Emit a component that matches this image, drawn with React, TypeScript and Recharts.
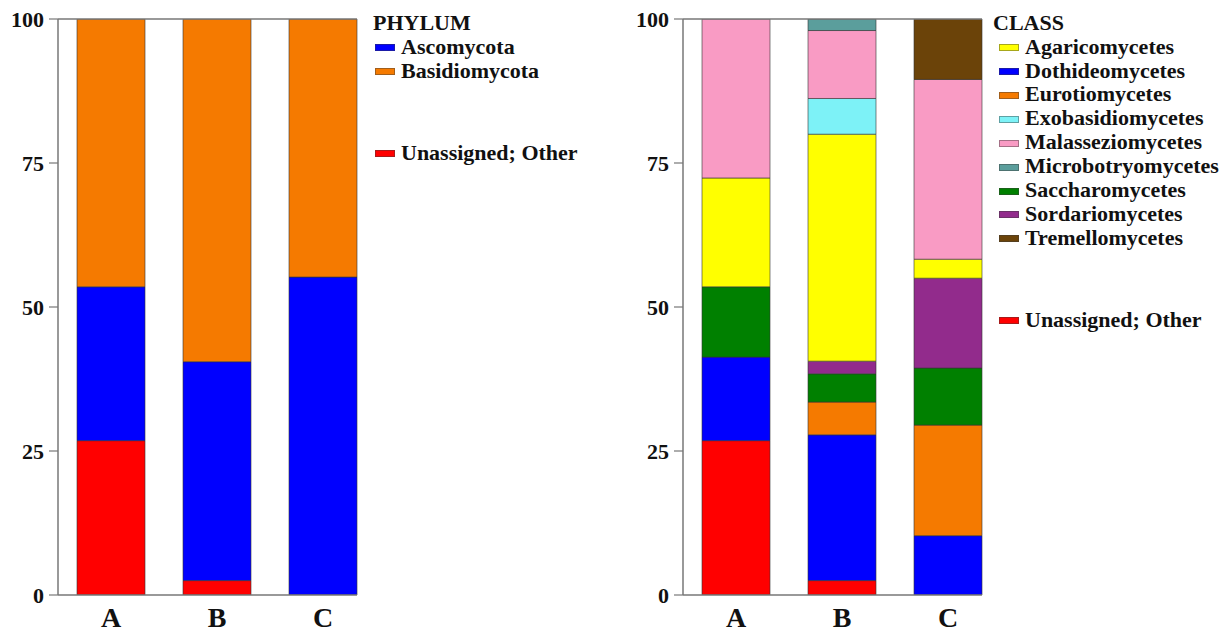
import React from 'react';
import { BarChart, Bar, XAxis, YAxis, ReferenceLine } from 'recharts';

const categories = ['A', 'B', 'C'];
const yTicks = [0, 25, 50, 75, 100];

// PHYLUM (stack order bottom -> top)
const phylumUnassigned = [26.8, 2.5, 0];
const phylumAscomycota = [26.7, 38.0, 55.2];
const phylumBasidiomycota = [46.5, 59.5, 44.8];

// CLASS (stack order bottom -> top)
const classUnassigned = [26.8, 2.5, 0];
const classDothideomycetes = [14.5, 25.3, 10.3];
const classEurotiomycetes = [0, 5.7, 19.2];
const classSaccharomycetes = [12.2, 4.9, 9.9];
const classSordariomycetes = [0, 2.2, 15.6];
const classAgaricomycetes = [18.9, 39.4, 3.3];
const classExobasidiomycetes = [0, 6.2, 0];
const classMalasseziomycetes = [27.6, 11.8, 31.2];
const classMicrobotryomycetes = [0, 2.0, 0];
const classTremellomycetes = [0, 0, 10.5];

const phylumSeries = [
  { key: 'unassigned', name: 'Unassigned; Other', color: '#ff0000', values: phylumUnassigned },
  { key: 'asco', name: 'Ascomycota', color: '#0000ff', values: phylumAscomycota },
  { key: 'basidio', name: 'Basidiomycota', color: '#f57a00', values: phylumBasidiomycota },
];

const classSeries = [
  { key: 'unassigned', name: 'Unassigned; Other', color: '#ff0000', values: classUnassigned },
  { key: 'dothi', name: 'Dothideomycetes', color: '#0000ff', values: classDothideomycetes },
  { key: 'euro', name: 'Eurotiomycetes', color: '#f57a00', values: classEurotiomycetes },
  { key: 'sacch', name: 'Saccharomycetes', color: '#008000', values: classSaccharomycetes },
  { key: 'sord', name: 'Sordariomycetes', color: '#922b8c', values: classSordariomycetes },
  { key: 'agar', name: 'Agaricomycetes', color: '#ffff00', values: classAgaricomycetes },
  { key: 'exo', name: 'Exobasidiomycetes', color: '#7df2f7', values: classExobasidiomycetes },
  { key: 'mala', name: 'Malasseziomycetes', color: '#f99bc4', values: classMalasseziomycetes },
  { key: 'micro', name: 'Microbotryomycetes', color: '#5b9e9c', values: classMicrobotryomycetes },
  { key: 'trem', name: 'Tremellomycetes', color: '#6b4309', values: classTremellomycetes },
];

const phylumLegend = ['Ascomycota', 'Basidiomycota'];
const classLegend = [
  'Agaricomycetes',
  'Dothideomycetes',
  'Eurotiomycetes',
  'Exobasidiomycetes',
  'Malasseziomycetes',
  'Microbotryomycetes',
  'Saccharomycetes',
  'Sordariomycetes',
  'Tremellomycetes',
];

const FONT = '"Liberation Serif", "Times New Roman", serif';
const AXIS = '#777777';

type Series = { key: string; name: string; color: string; values: number[] };

function buildData(series: Series[]) {
  return categories.map((c, i) => {
    const row: Record<string, any> = { name: c };
    series.forEach((s) => {
      row[s.key] = s.values[i];
    });
    return row;
  });
}

function StackChart({ series, left }: { series: Series[]; left: number }) {
  const data = buildData(series);
  return (
    <div style={{ position: 'absolute', left, top: 0 }}>
      <BarChart
        width={360}
        height={631}
        data={data}
        margin={{ top: 19, right: 3, bottom: 0, left: 0 }}
        barCategoryGap={19}
      >
        <XAxis
          dataKey="name"
          height={36}
          interval={0}
          axisLine={{ stroke: AXIS, strokeWidth: 1.5 }}
          tickLine={false}
          tickSize={6}
          tickMargin={6}
          padding={{ left: 0, right: -19 }}
          tick={{ fontSize: 28, fontWeight: 'bold', fill: '#111', fontFamily: FONT }}
        />
        <YAxis
          type="number"
          width={58}
          domain={[0, 100]}
          ticks={yTicks}
          interval={0}
          allowDataOverflow
          axisLine={{ stroke: AXIS, strokeWidth: 1.5 }}
          tickLine={{ stroke: AXIS, strokeWidth: 1.2 }}
          tickSize={9}
          tickMargin={5}
          tick={{ fontSize: 22, fontWeight: 'bold', fill: '#111', fontFamily: FONT }}
        />
        {series.map((s) => (
          <Bar
            key={s.key}
            dataKey={s.key}
            name={s.name}
            stackId="a"
            fill={s.color}
            stroke="#333"
            strokeOpacity={0.6}
            strokeWidth={1}
            isAnimationActive={false}
          />
        ))}
        <ReferenceLine y={100} stroke={AXIS} strokeWidth={1.5} />
      </BarChart>
    </div>
  );
}

function LegendBlock({
  title,
  items,
  series,
  titleX,
  swatchX,
  textX,
}: {
  title: string;
  items: string[];
  series: Series[];
  titleX: number;
  swatchX: number;
  textX: number;
}) {
  const colorOf = (n: string) => series.find((s) => s.name === n)?.color || '#000';
  const textStyle: React.CSSProperties = {
    position: 'absolute',
    fontFamily: FONT,
    fontWeight: 'bold',
    fontSize: 22,
    lineHeight: '24px',
    color: '#111',
    whiteSpace: 'nowrap',
  };
  const rowTop = (i: number) => 34.6 + 23.9 * i;
  const rows = items.map((n, i) => ({ name: n, top: rowTop(i) }));
  rows.push({ name: 'Unassigned; Other', top: rowTop(items.length - 1) + 82 });
  return (
    <>
      <div style={{ ...textStyle, left: titleX, top: 10.6 }}>{title}</div>
      {rows.map((r) => (
        <React.Fragment key={r.name}>
          <div
            style={{
              position: 'absolute',
              left: swatchX,
              top: r.top + 9.5,
              width: 20,
              height: 7,
              background: colorOf(r.name),
              boxSizing: 'border-box',
              border: '1px solid rgba(60,60,60,0.45)',
            }}
          />
          <div style={{ ...textStyle, left: textX, top: r.top }}>{r.name}</div>
        </React.Fragment>
      ))}
    </>
  );
}

export default function App() {
  return (
    <div
      style={{
        position: 'fixed',
        left: 0,
        top: 0,
        width: 1231,
        height: 631,
        background: '#fff',
        overflow: 'hidden',
      }}
    >
      <StackChart series={phylumSeries} left={0} />
      <StackChart series={classSeries} left={625} />
      <LegendBlock
        title="PHYLUM"
        items={phylumLegend}
        series={phylumSeries}
        titleX={373}
        swatchX={375}
        textX={401}
      />
      <LegendBlock
        title="CLASS"
        items={classLegend}
        series={classSeries}
        titleX={993}
        swatchX={999}
        textX={1025}
      />
    </div>
  );
}
